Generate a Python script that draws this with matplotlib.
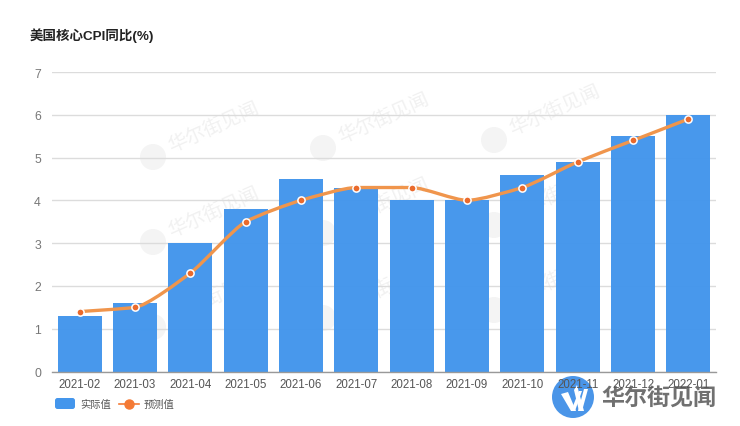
import matplotlib
matplotlib.use('Agg')
import matplotlib.pyplot as plt
from matplotlib.patches import Circle, Polygon, FancyBboxPatch, PathPatch
from matplotlib.path import Path

plt.rcParams['font.family'] = ['Liberation Sans', 'Noto Sans CJK SC', 'DejaVu Sans']

months = ['2021-02', '2021-03', '2021-04', '2021-05', '2021-06', '2021-07',
          '2021-08', '2021-09', '2021-10', '2021-11', '2021-12', '2022-01']
actual = [1.3, 1.6, 3.0, 3.8, 4.5, 4.3, 4.0, 4.0, 4.6, 4.9, 5.5, 6.0]
forecast = [1.4, 1.5, 2.3, 3.5, 4.0, 4.3, 4.3, 4.0, 4.3, 4.9, 5.4, 5.9]
yticks = [0, 1, 2, 3, 4, 5, 6, 7]

W, H = 740, 427
fig = plt.figure(figsize=(W / 100, H / 100), dpi=100)

# background layer in pixel coordinates: watermark and logo sit behind the chart
bg = fig.add_axes([0, 0, 1, 1], zorder=0)
bg.set_xlim(0, W)
bg.set_ylim(H, 0)
bg.axis('off')

for cx, cy in [(153, 158), (323, 149), (494, 141),
               (153, 243), (323, 234), (494, 226),
               (153, 328), (323, 319), (494, 311)]:
    bg.add_patch(Circle((cx, cy), 13, fc='#f4f4f4', ec='none'))
    bg.text(cx + 61, cy - 30, '华尔街见闻', fontsize=14, color='#f1f1f1',
            rotation=24, ha='center', va='center', rotation_mode='anchor')

bg.add_patch(Circle((573, 398), 21, fc='#4a95e8', ec='none'))
for pts in [[(561, 395), (568, 393), (576, 412), (571, 412)],
            [(571, 412), (575, 412), (582, 392), (579, 392)],
            [(574, 391), (577, 386), (584, 412), (579, 412)],
            [(578, 412), (582, 412), (588, 390), (584, 390)]]:
    bg.add_patch(Polygon(pts, closed=True, fc='white', ec='none'))
bg.text(601, 398, '华尔街见闻', fontsize=16.6, fontweight='bold', color='#707070',
        family=['Noto Sans CJK SC'], va='center')

ax = fig.add_axes([52 / W, 1 - 372.5 / H, 664 / W, 299.5 / H], zorder=1)
ax.patch.set_alpha(0)

x = list(range(len(months)))
ax.bar(x, actual, width=0.8, color='#4496ec', alpha=0.98, zorder=2)


def smooth_path(xs, ys, handle=0.22):
    # bezier through the points, flat at local peaks and dips like the original line
    slopes = []
    for i in range(len(xs)):
        if i == 0:
            slopes.append(ys[1] - ys[0])
        elif i == len(xs) - 1:
            slopes.append(ys[i] - ys[i - 1])
        else:
            a, b = ys[i] - ys[i - 1], ys[i + 1] - ys[i]
            slopes.append(0.0 if a * b <= 0 else 2 * a * b / (a + b))
    verts = [(xs[0], ys[0])]
    codes = [Path.MOVETO]
    for i in range(len(xs) - 1):
        verts += [(xs[i] + handle, ys[i] + slopes[i] * handle),
                  (xs[i + 1] - handle, ys[i + 1] - slopes[i + 1] * handle),
                  (xs[i + 1], ys[i + 1])]
        codes += [Path.CURVE4] * 3
    return Path(verts, codes)


ax.add_patch(PathPatch(smooth_path(x, forecast), fc='none', ec='#f0954c', lw=2.4,
                       capstyle='round', zorder=3))
ax.plot(x, forecast, 'o', ms=5.2, mfc='#ea6a2c', mec='white', mew=1.1, zorder=4, clip_on=False)

ax.set_xlim(-0.5, 11.5)
ax.set_ylim(0, 7)
ax.set_yticks(yticks)
ax.set_xticks(x)
ax.set_xticklabels(months)
ax.tick_params(axis='x', length=0, pad=5, labelsize=8.3, labelcolor='#555555')
ax.tick_params(axis='y', length=0, pad=8, labelsize=8.8, labelcolor='#777777')
ax.grid(axis='y', color='#dcdcdc', lw=1, zorder=0)
ax.set_axisbelow(True)
for s in ['top', 'right', 'left']:
    ax.spines[s].set_visible(False)
ax.spines['bottom'].set_color('#999999')
ax.spines['bottom'].set_linewidth(1)
ax.spines['bottom'].set_zorder(5)

# title and legend
ov = fig.add_axes([0, 0, 1, 1], zorder=2)
ov.set_xlim(0, W)
ov.set_ylim(H, 0)
ov.axis('off')

ov.text(30, 35.5, '美国核心CPI同比(%)', fontsize=9.7, fontweight='bold', color='#222222', va='center')

ov.add_patch(FancyBboxPatch((55, 399), 20, 11, boxstyle='round,pad=0,rounding_size=2.5',
                            fc='#4496ec', ec='none'))
ov.text(80, 405, '实际值', fontsize=7.4, color='#555555', va='center')
ov.plot([119, 139], [405, 405], color='#f47a35', lw=1.2)
ov.plot([129], [405], 'o', ms=6.5, color='#f47a35')
ov.text(144, 405, '预测值', fontsize=7.4, color='#555555', va='center')

fig.savefig('out.png', dpi=100)
